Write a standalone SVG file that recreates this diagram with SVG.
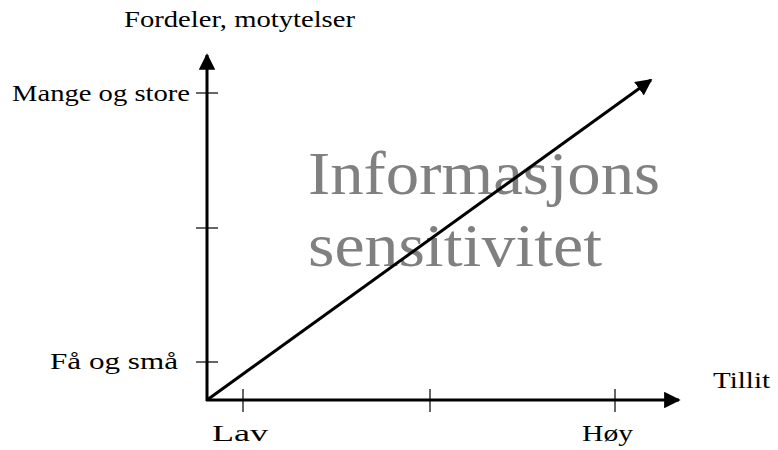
<svg xmlns="http://www.w3.org/2000/svg" width="778" height="450" viewBox="0 0 778 450">
<style>
.t{font-family:"Liberation Serif","DejaVu Serif",serif;font-size:24px;fill:#000}
.big{font-family:"Liberation Serif","DejaVu Serif",serif;font-size:62px;fill:#808080}
.axis{stroke:#000;stroke-width:3;fill:none}
.tick{stroke:#000;stroke-width:1.2;fill:none}
</style>
<defs>
<marker id="ah" viewBox="0 0 10 10" refX="9" refY="5" markerWidth="5.5" markerHeight="5.5" orient="auto" markerUnits="strokeWidth">
<path d="M0,0 L10,5 L0,10 z" fill="#000"/>
</marker>
</defs>
<rect width="778" height="450" fill="#fff"/>
<g id="label-center">
<text class="big" x="308" y="194" textLength="352" lengthAdjust="spacingAndGlyphs">Informasjons</text>
<text class="big" x="308" y="266" textLength="294" lengthAdjust="spacingAndGlyphs">sensitivitet</text>
</g>
<g id="connectors">
<line class="axis" x1="207" y1="401" x2="207" y2="55" marker-end="url(#ah)"/>
<line class="axis" x1="206" y1="400" x2="679" y2="400" marker-end="url(#ah)"/>
<line class="axis" x1="207" y1="400" x2="651" y2="80" marker-end="url(#ah)"/>
<line class="tick" x1="196" y1="93" x2="218" y2="93"/>
<line class="tick" x1="196" y1="228" x2="218" y2="228"/>
<line class="tick" x1="196" y1="362" x2="218" y2="362"/>
<line class="tick" x1="243" y1="389" x2="243" y2="412"/>
<line class="tick" x1="430" y1="389" x2="430" y2="412"/>
<line class="tick" x1="615" y1="389" x2="615" y2="412"/>
</g>
<g id="label-y"><text class="t" x="124" y="27" textLength="231" lengthAdjust="spacingAndGlyphs">Fordeler, motytelser</text></g>
<g id="label-many"><text class="t" x="12" y="101" textLength="178" lengthAdjust="spacingAndGlyphs">Mange og store</text></g>
<g id="label-few"><text class="t" x="50" y="369" textLength="128" lengthAdjust="spacingAndGlyphs">Få og små</text></g>
<g id="label-x"><text class="t" x="713" y="388" textLength="57" lengthAdjust="spacingAndGlyphs">Tillit</text></g>
<g id="label-low"><text class="t" x="212" y="441" textLength="56" lengthAdjust="spacingAndGlyphs">Lav</text></g>
<g id="label-high"><text class="t" x="582" y="441" textLength="51" lengthAdjust="spacingAndGlyphs">Høy</text></g>
</svg>
